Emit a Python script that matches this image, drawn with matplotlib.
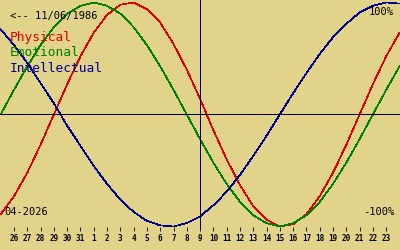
import numpy as np
import matplotlib.pyplot as plt

# biorhythm values, one per day from 25 March to 24 April 2026
physical = [-0.89, -0.73, -0.52, -0.27, 0.0, 0.27, 0.52, 0.73, 0.89, 0.98, 1.0,
            0.94, 0.82, 0.63, 0.40, 0.14, -0.14, -0.40, -0.63, -0.82, -0.94,
            -1.0, -0.98, -0.89, -0.73, -0.52, -0.27, 0.0, 0.27, 0.52, 0.73]
emotional = [0.0, 0.22, 0.43, 0.62, 0.78, 0.90, 0.97, 1.0, 0.97, 0.90, 0.78,
             0.62, 0.43, 0.22, 0.0, -0.22, -0.43, -0.62, -0.78, -0.90, -0.97,
             -1.0, -0.97, -0.90, -0.78, -0.62, -0.43, -0.22, 0.0, 0.22, 0.43]
intellectual = [0.76, 0.62, 0.46, 0.28, 0.10, -0.10, -0.28, -0.46, -0.62, -0.76,
                -0.87, -0.95, -0.99, -1.0, -0.97, -0.91, -0.81, -0.69, -0.54,
                -0.37, -0.19, 0.0, 0.19, 0.37, 0.54, 0.69, 0.81, 0.91, 0.97,
                1.0, 0.99]

# day offsets relative to 26 March
days = np.arange(-1, 30)
tick_labels = [26, 27, 28, 29, 30, 31] + list(range(1, 24))
today = 14  # 9 April

bg = '#E1D38A'
mono = 'DejaVu Sans Mono'

fig = plt.figure(figsize=(4, 2.5), dpi=100, facecolor=bg)
ax = fig.add_axes([0, 0, 1, 1], facecolor=bg)

ax.plot(days, physical, color='#E00000', lw=0.5, antialiased=False)
ax.plot(days, emotional, color='#008000', lw=0.5, antialiased=False)
ax.plot(days, intellectual, color='#000090', lw=0.5, antialiased=False)

ax.axhline(0, color='black', lw=0.6, antialiased=False)
ax.axvline(today, ymin=0.088, color='black', lw=0.6, antialiased=False)

ax.set_xlim(-1.053, 29.04)
ax.set_ylim(-1.2098, 1.0223)

for s in ['top', 'left', 'right']:
    ax.spines[s].set_visible(False)
ax.spines['bottom'].set_position(('axes', 0.076))
ax.spines['bottom'].set_visible(False)
ax.set_yticks([])
ax.set_xticks(np.arange(len(tick_labels)))
ax.set_xticks([], minor=True)
ax.set_xticklabels(tick_labels, fontfamily=mono, fontsize=5.5, fontweight='bold')
ax.tick_params(axis='x', which='major', direction='in', length=3, width=0.6, pad=2.5)


def label(x, y, s, size, color='black', ha='left'):
    # x, y in pixels from the top-left corner
    ax.text(x / 400, 1 - y / 250, s, transform=ax.transAxes, fontfamily=mono,
            fontsize=size, color=color, va='center', ha=ha)


label(10, 16, '<-- 11/06/1986', 7.5)
label(10, 38, 'Physical', 9.3, '#E00000')
label(10, 53, 'Emotional', 9.3, '#008000')
label(10, 68, 'Intellectual', 9.3, '#000090')
label(394, 12, '100%', 7.5, ha='right')
label(394, 212, '-100%', 7.5, ha='right')
label(4, 212, '04-2026', 7.5)

fig.savefig('out.png', dpi=100, facecolor=bg)
